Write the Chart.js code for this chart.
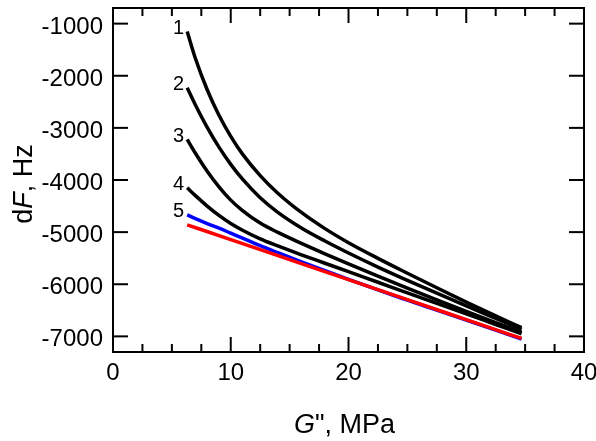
<!DOCTYPE html>
<html>
<head>
<meta charset="utf-8">
<script src="https://cdn.jsdelivr.net/npm/chart.js@4/dist/chart.umd.min.js"></script>
<style>
  html, body { margin: 0; padding: 0; background: #fff; }
  #wrap { width: 596px; height: 441px; }
</style>
</head>
<body>
<div id="wrap"><canvas id="chart" width="596" height="441"></canvas></div>
<script>
// G'' values (MPa)
const gValues = [6.3, 7, 8, 9, 10, 11, 12.5, 14, 16, 18, 20, 22.5, 25, 27.5, 30, 32.5, 34.7];

// dF (Hz) for curves 1..5
const curve1 = [-1150, -1668, -2268, -2758, -3163, -3503, -3915, -4253, -4623, -4933, -5203, -5503, -5788, -6068, -6343, -6608, -6832];
const curve2 = [-2230, -2560, -2990, -3370, -3700, -3985, -4340, -4620, -4920, -5170, -5400, -5670, -5925, -6172, -6415, -6655, -6866];
const curve3 = [-3220, -3486, -3831, -4131, -4386, -4586, -4826, -5006, -5216, -5416, -5610, -5845, -6075, -6300, -6520, -6735, -6920];
const curve4 = [-4150, -4300, -4500, -4680, -4835, -4965, -5130, -5265, -5435, -5597, -5759, -5962, -6164, -6367, -6569, -6772, -6950];
const curve5 = [-4670, -4740, -4835, -4925, -5020, -5115, -5260, -5395, -5570, -5740, -5905, -6110, -6305, -6497, -6690, -6882, -7050];

// red reference line
const redG = [6.3, 10, 15, 20, 25, 30, 34.7];
const redF = [-4860, -5144, -5528, -5912, -6295, -6679, -7040];

const curveLabels = ['1', '2', '3', '4', '5'];

// axis ticks
const xMajorTicks = [0, 10, 20, 30, 40];
const xMinorTicks = [2.5, 5, 7.5, 12.5, 15, 17.5, 22.5, 25, 27.5, 32.5, 35, 37.5];
const yTicks = [-1000, -2000, -3000, -4000, -5000, -6000, -7000];

const FONT = '"Liberation Sans", Arial, Helvetica, sans-serif';

function pts(xs, ys) {
    return xs.map((x, i) => ({ x: x, y: ys[i] }));
}

const blackCurves = [curve1, curve2, curve3, curve4];
const datasets = blackCurves.map(c => ({
    data: pts(gValues, c),
    borderColor: '#000',
    borderWidth: 3.5,
    order: 2
}));
datasets.push({ data: pts(gValues, curve5), borderColor: '#0000ff', borderWidth: 3.5, order: 1 });
datasets.push({ data: pts(redG, redF), borderColor: '#ff0000', borderWidth: 3.5, order: 0 });

// frame, inward ticks, tick labels, axis titles, curve numbers
const decorations = {
    id: 'decorations',
    afterDatasetsDraw(chart) {
        const ctx = chart.ctx;
        const a = chart.chartArea;
        const x = chart.scales.x, y = chart.scales.y;
        ctx.save();
        ctx.strokeStyle = '#000';
        ctx.lineWidth = 2;
        ctx.lineCap = 'butt';
        ctx.strokeRect(a.left, a.top, a.right - a.left, a.bottom - a.top);

        const seg = (x1, y1, x2, y2) => {
            ctx.beginPath(); ctx.moveTo(x1, y1); ctx.lineTo(x2, y2); ctx.stroke();
        };
        xMajorTicks.forEach(v => {
            const px = x.getPixelForValue(v);
            seg(px, a.bottom, px, a.bottom - 15);
            seg(px, a.top, px, a.top + 15);
        });
        xMinorTicks.forEach(v => {
            const px = x.getPixelForValue(v);
            seg(px, a.bottom, px, a.bottom - 8);
            seg(px, a.top, px, a.top + 8);
        });
        yTicks.forEach(v => {
            const py = y.getPixelForValue(v);
            seg(a.left, py, a.left + 15, py);
            seg(a.right, py, a.right - 15, py);
        });

        ctx.fillStyle = '#000';
        ctx.font = '24px ' + FONT;
        ctx.textBaseline = 'alphabetic';
        ctx.textAlign = 'center';
        xMajorTicks.forEach(v => {
            ctx.fillText(String(v), x.getPixelForValue(v), a.bottom + 28);
        });
        ctx.textAlign = 'right';
        yTicks.forEach(v => {
            ctx.fillText(String(v), a.left - 10, y.getPixelForValue(v) + 10);
        });

        // curve numbers
        ctx.font = '20px ' + FONT;
        ctx.textAlign = 'right';
        ctx.textBaseline = 'middle';
        [curve1, curve2, curve3, curve4, curve5].forEach((c, i) => {
            ctx.fillText(curveLabels[i], x.getPixelForValue(gValues[0]) - 3, y.getPixelForValue(c[0]) - 3);
        });

        // axis titles with italic symbols
        const drawParts = (parts, startX, baseY) => {
            let cx = startX;
            parts.forEach(p => {
                ctx.font = (p.italic ? 'italic ' : '') + '27px ' + FONT;
                ctx.fillText(p.t, cx, baseY);
                cx += ctx.measureText(p.t).width;
            });
        };
        const widthOf = parts => parts.reduce((s, p) => {
            ctx.font = (p.italic ? 'italic ' : '') + '27px ' + FONT;
            return s + ctx.measureText(p.t).width;
        }, 0);

        ctx.textAlign = 'left';
        ctx.textBaseline = 'alphabetic';
        const xTitle = [{ t: 'G', italic: true }, { t: '", MPa' }];
        drawParts(xTitle, (a.left + a.right) / 2 - 4 - widthOf(xTitle) / 2, 433);

        const yTitle = [{ t: 'd' }, { t: 'F', italic: true }, { t: ', Hz' }];
        ctx.translate(32, (a.top + a.bottom) / 2 + 4);
        ctx.rotate(-Math.PI / 2);
        drawParts(yTitle, -widthOf(yTitle) / 2, 0);
        ctx.restore();
    }
};

new Chart(document.getElementById('chart'), {
    type: 'line',
    data: { datasets: datasets },
    options: {
        responsive: false,
        animation: false,
        layout: { padding: { left: 113, right: 12, top: 8, bottom: 89 } },
        elements: {
            point: { radius: 0 },
            line: { cubicInterpolationMode: 'monotone', borderCapStyle: 'butt' }
        },
        plugins: { legend: { display: false }, tooltip: { enabled: false } },
        scales: {
            x: { type: 'linear', min: 0, max: 40, display: false },
            y: { type: 'linear', min: -7300, max: -700, display: false }
        }
    },
    plugins: [decorations]
});
</script>
</body>
</html>
